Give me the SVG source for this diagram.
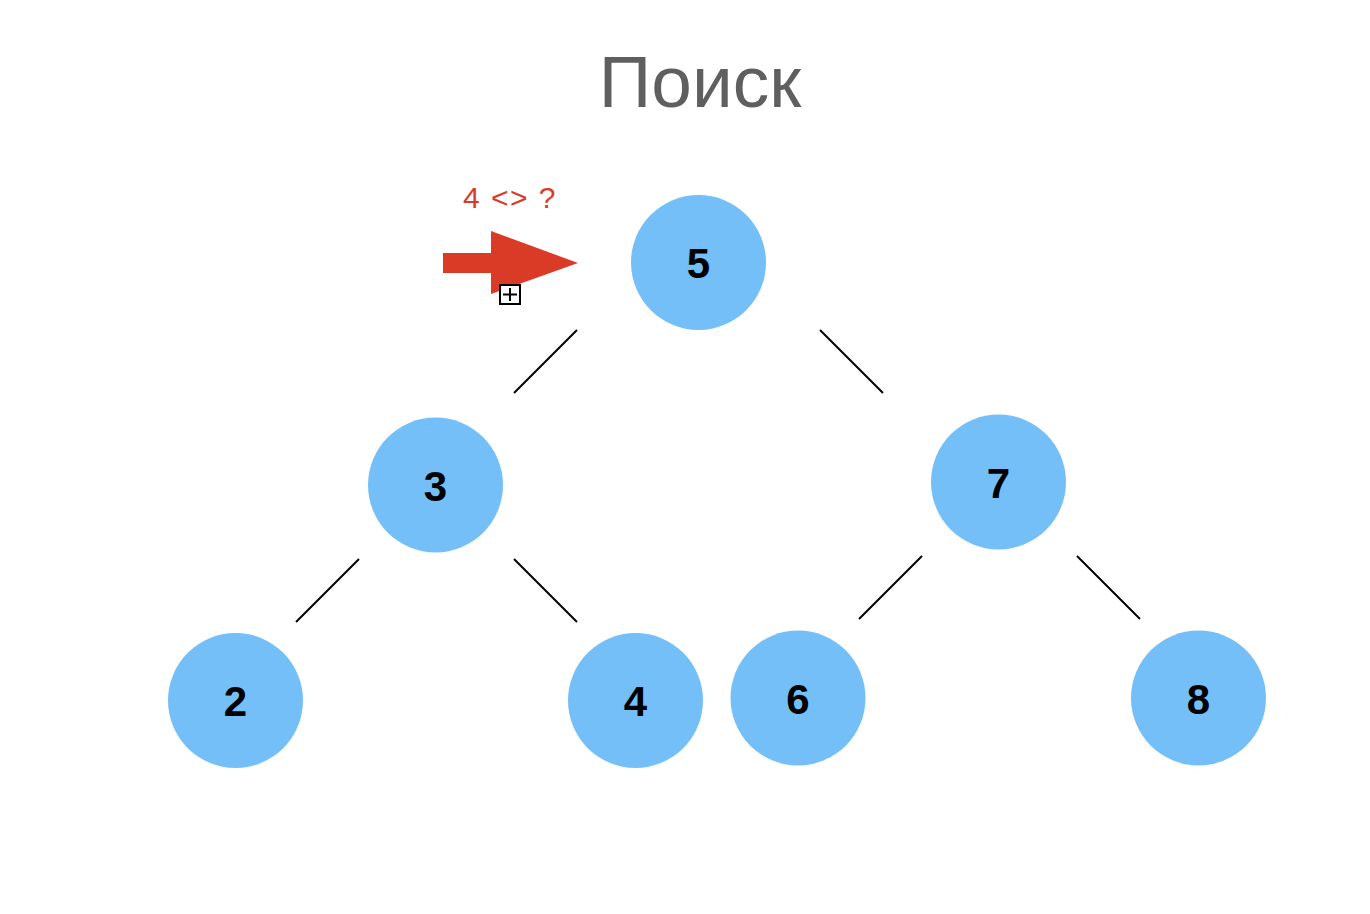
<svg xmlns="http://www.w3.org/2000/svg" width="1370" height="914" viewBox="0 0 1370 914">
<style>
.node circle{fill:#74bff8}
.node text{font-family:"Liberation Sans",Arial,sans-serif;font-weight:bold;font-size:42px;fill:#000;text-anchor:middle}
.edges line{stroke:#000;stroke-width:2}
</style>
<rect width="1370" height="914" fill="#fff"/>
<text id="title" x="700" y="107" font-family="'Liberation Sans',Arial,sans-serif" font-size="73" fill="#5f5f5f" text-anchor="middle">Поиск</text>
<g id="pointer">
<text x="510" y="208" font-family="'Liberation Sans',Arial,sans-serif" font-size="30" letter-spacing="1.5" fill="#d93b26" text-anchor="middle">4 &lt;&gt; ?</text>
<polygon points="443,253 491,253 491,231 578,263 491,294 491,273 443,273" fill="#d93b26"/>
<rect x="500" y="285" width="20" height="19" fill="#fff" stroke="#000" stroke-width="2"/>
<line x1="503" y1="294.5" x2="517" y2="294.5" stroke="#000" stroke-width="2"/>
<line x1="510" y1="288" x2="510" y2="301" stroke="#000" stroke-width="2"/>
</g>
<g id="edges" class="edges">
<line x1="577" y1="330" x2="514" y2="393"/>
<line x1="820" y1="330" x2="883" y2="393"/>
<line x1="359" y1="559" x2="296" y2="622"/>
<line x1="514" y1="559" x2="577" y2="622"/>
<line x1="922" y1="556" x2="859" y2="619"/>
<line x1="1077" y1="556" x2="1140" y2="619"/>
</g>
<g id="n5" class="node"><circle cx="698.5" cy="262.5" r="67.5"/><text x="698.5" y="278">5</text></g>
<g id="n3" class="node"><circle cx="435.5" cy="485" r="67.5"/><text x="435.5" y="500.5">3</text></g>
<g id="n7" class="node"><circle cx="998.5" cy="482" r="67.5"/><text x="998.5" y="497.5">7</text></g>
<g id="n2" class="node"><circle cx="235.5" cy="700.5" r="67.5"/><text x="235.5" y="716">2</text></g>
<g id="n4" class="node"><circle cx="635.5" cy="700.5" r="67.5"/><text x="635.5" y="716">4</text></g>
<g id="n6" class="node"><circle cx="798" cy="698" r="67.5"/><text x="798" y="713.5">6</text></g>
<g id="n8" class="node"><circle cx="1198.5" cy="698" r="67.5"/><text x="1198.5" y="713.5">8</text></g>
</svg>
